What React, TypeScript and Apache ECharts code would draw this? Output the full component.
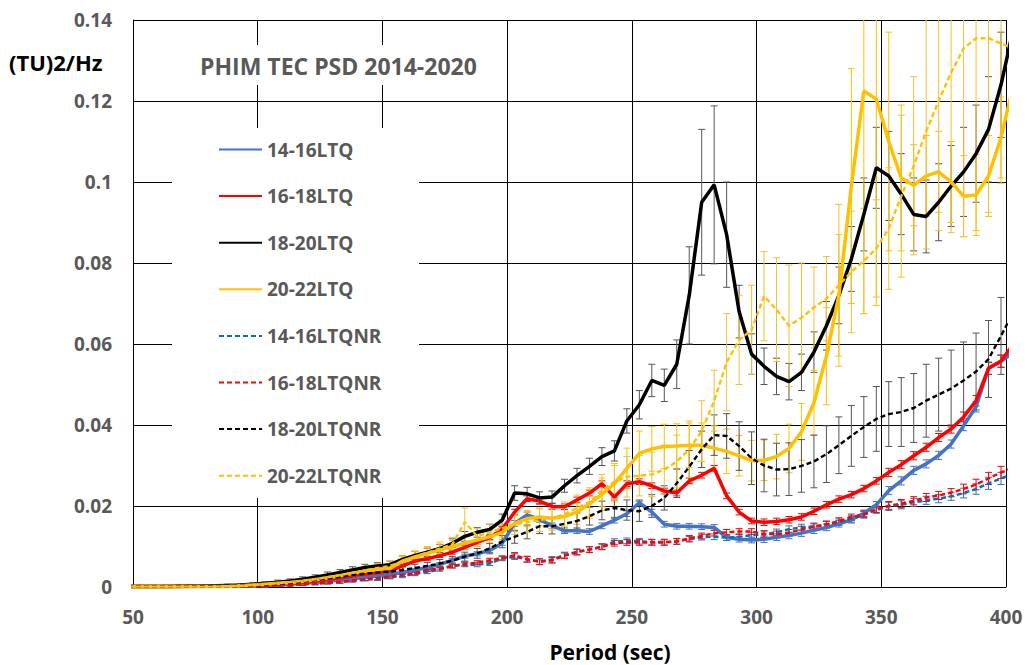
import React, { useEffect, useRef } from "react";
import * as echarts from "echarts";

// Period (sec) sample points shared by all series
const periods = [48, 53, 58, 63, 68, 73, 78, 83, 88, 93, 98, 103, 108, 113, 118, 123, 128, 133, 138, 143, 148, 153, 158, 163, 168, 173, 178, 183, 188, 193, 198,
  203, 208, 213, 218, 223, 228, 233, 238, 243, 248, 253, 258, 263, 268, 273, 278, 283, 288, 293, 298, 303, 308, 313, 318, 323, 328, 333, 338, 343, 348, 353, 358, 363, 368, 373, 378, 383, 388, 393, 398, 403];

const xTickLabels = ["50", "100", "150", "200", "250", "300", "350", "400"];
const yTickLabels = ["0", "0.02", "0.04", "0.06", "0.08", "0.1", "0.12", "0.14"];

// 14-16LTQ
const blueSolid = [0.0001, 0.0001, 0.0001, 0.0001, 0.0001, 0.0001, 0.0002, 0.0002, 0.0002, 0.0003, 0.0003, 0.0004, 0.0005, 0.0007, 0.0009, 0.0011, 0.0014, 0.0017, 0.002, 0.0024, 0.0028, 0.0031, 0.0036, 0.0042, 0.0048, 0.0056, 0.0066, 0.0076, 0.0082, 0.009, 0.0108,
  0.0157, 0.0178, 0.0167, 0.0151, 0.0139, 0.0139, 0.0137, 0.0151, 0.0165, 0.0181, 0.0208, 0.0185, 0.0155, 0.015, 0.015, 0.0149, 0.0147, 0.0122, 0.0118, 0.0116, 0.0118, 0.0123, 0.0127, 0.0133, 0.014, 0.0147, 0.0156, 0.0166, 0.0182, 0.0203, 0.0238, 0.0262, 0.0288, 0.0304, 0.0325, 0.0353, 0.0398, 0.0445, 0.054, 0.0557, 0.058];
const blueSolidErr = [0.0002, 0.0002, 0.0002, 0.0002, 0.0002, 0.0002, 0.0002, 0.0002, 0.0002, 0.0002, 0.0003, 0.0003, 0.0003, 0.0003, 0.0003, 0.0003, 0.0003, 0.0003, 0.0003, 0.0003, 0.0004, 0.0004, 0.0004, 0.0004, 0.0004, 0.0004, 0.0005, 0.0005, 0.0005, 0.0005, 0.0005,
  0.0007, 0.0007, 0.0007, 0.0007, 0.0007, 0.0007, 0.0007, 0.0007, 0.0007, 0.0007, 0.0007, 0.0007, 0.0007, 0.0007, 0.0007, 0.0007, 0.0007, 0.0007, 0.0007, 0.0007, 0.0008, 0.0008, 0.0008, 0.0008, 0.0008, 0.0008, 0.0008, 0.0008, 0.0008, 0.0008, 0.001, 0.001, 0.001, 0.001, 0.001, 0.001, 0.0012, 0.0013, 0.0015, 0.0015, 0.0015];

// 16-18LTQ
const redSolid = [0.0001, 0.0001, 0.0001, 0.0001, 0.0001, 0.0002, 0.0002, 0.0002, 0.0003, 0.0003, 0.0004, 0.0005, 0.0007, 0.0009, 0.0012, 0.0015, 0.0019, 0.0023, 0.0028, 0.0032, 0.0036, 0.004, 0.0052, 0.0064, 0.007, 0.0077, 0.0086, 0.0098, 0.011, 0.0122, 0.0143,
  0.0185, 0.0218, 0.0212, 0.0199, 0.0198, 0.0215, 0.0232, 0.0255, 0.0222, 0.0255, 0.026, 0.025, 0.0237, 0.0232, 0.0262, 0.0276, 0.0293, 0.0225, 0.0185, 0.0163, 0.016, 0.0162, 0.0166, 0.0173, 0.0187, 0.0203, 0.0217, 0.0228, 0.0243, 0.0262, 0.0283, 0.0302, 0.0324, 0.0345, 0.0369, 0.039, 0.042, 0.046, 0.054, 0.0558, 0.06];
const redSolidErr = blueSolidErr.slice();

// 18-20LTQ
const blackSolid = [0.0001, 0.0001, 0.0001, 0.0001, 0.0002, 0.0002, 0.0002, 0.0003, 0.0004, 0.0005, 0.0007, 0.0009, 0.0012, 0.0015, 0.0019, 0.0024, 0.003, 0.0036, 0.0042, 0.0048, 0.0052, 0.0055, 0.0068, 0.0078, 0.0086, 0.0095, 0.0108, 0.0125, 0.0135, 0.0142, 0.0165,
  0.0232, 0.023, 0.022, 0.0222, 0.025, 0.0275, 0.0298, 0.0322, 0.0336, 0.041, 0.045, 0.051, 0.0498, 0.055, 0.072, 0.095, 0.0993, 0.087, 0.068, 0.0575, 0.0545, 0.052, 0.0507, 0.053, 0.058, 0.0645, 0.072, 0.081, 0.092, 0.1035, 0.1015, 0.097, 0.092, 0.0915, 0.095, 0.099, 0.1025, 0.107, 0.113, 0.124, 0.138];
const blackSolidErr = [0.0003, 0.0003, 0.0003, 0.0003, 0.0003, 0.0003, 0.0003, 0.0003, 0.0003, 0.0003, 0.0004, 0.0004, 0.0005, 0.0005, 0.0006, 0.0006, 0.0007, 0.0007, 0.0008, 0.0008, 0.0008, 0.0009, 0.0009, 0.001, 0.001, 0.001, 0.0011, 0.0012, 0.0012, 0.0013, 0.0015,
  0.0018, 0.0016, 0.0015, 0.0015, 0.0016, 0.0018, 0.002, 0.0022, 0.0025, 0.003, 0.0035, 0.004, 0.004, 0.006, 0.012, 0.018, 0.0195, 0.013, 0.0065, 0.005, 0.0045, 0.0045, 0.0045, 0.0045, 0.005, 0.006, 0.007, 0.008, 0.009, 0.01, 0.011, 0.01, 0.009, 0.009, 0.0095, 0.01, 0.011, 0.012, 0.013, 0.013, 0.014];

// 20-22LTQ
const yellowSolid = [0.0001, 0.0001, 0.0001, 0.0001, 0.0001, 0.0001, 0.0001, 0.0001, 0.0001, 0.0003, 0.0005, 0.0007, 0.0009, 0.0011, 0.0014, 0.0018, 0.0023, 0.0028, 0.0034, 0.0039, 0.0043, 0.0046, 0.0064, 0.0074, 0.0083, 0.0091, 0.01, 0.0108, 0.0116, 0.0124, 0.0135,
  0.0157, 0.0169, 0.0173, 0.017, 0.0174, 0.0185, 0.0205, 0.0229, 0.0255, 0.0293, 0.033, 0.0341, 0.0347, 0.0348, 0.035, 0.035, 0.0343, 0.0335, 0.0324, 0.0312, 0.0313, 0.0322, 0.0342, 0.0383, 0.0455, 0.057, 0.072, 0.099, 0.1225, 0.1205, 0.11, 0.101, 0.0992, 0.1015, 0.1025, 0.1, 0.0965, 0.0968, 0.1015, 0.111, 0.124];
const yellowSolidErr = [0.0003, 0.0003, 0.0003, 0.0003, 0.0003, 0.0003, 0.0003, 0.0003, 0.0003, 0.0003, 0.0004, 0.0004, 0.0005, 0.0005, 0.0006, 0.0007, 0.0008, 0.0009, 0.001, 0.001, 0.0012, 0.0012, 0.0013, 0.0013, 0.0014, 0.0015, 0.0015, 0.0016, 0.0016, 0.0017, 0.0018,
  0.002, 0.002, 0.0022, 0.0025, 0.0028, 0.003, 0.0035, 0.004, 0.0045, 0.005, 0.0055, 0.0055, 0.0055, 0.0055, 0.0055, 0.0055, 0.0055, 0.0055, 0.005, 0.005, 0.005, 0.0055, 0.006, 0.007, 0.008, 0.012, 0.015, 0.029, 0.055, 0.051, 0.027, 0.018, 0.01, 0.01, 0.01, 0.01, 0.01, 0.01, 0.01, 0.01, 0.01];

// 14-16LTQNR
const blueDashed = [0.0001, 0.0001, 0.0001, 0.0001, 0.0001, 0.0001, 0.0001, 0.0001, 0.0002, 0.0002, 0.0003, 0.0003, 0.0004, 0.0005, 0.0006, 0.0008, 0.001, 0.0012, 0.0015, 0.0018, 0.002, 0.0024, 0.0027, 0.0032, 0.0037, 0.0043, 0.0052, 0.0055, 0.0055, 0.0058, 0.007,
  0.0075, 0.0068, 0.0063, 0.0068, 0.0079, 0.0087, 0.0093, 0.01, 0.0112, 0.0114, 0.0113, 0.0111, 0.0111, 0.0112, 0.0118, 0.0123, 0.0124, 0.0122, 0.0124, 0.0128, 0.013, 0.0135, 0.0143, 0.0147, 0.015, 0.0154, 0.016, 0.0168, 0.0178, 0.019, 0.0199, 0.0203, 0.0209, 0.0214, 0.0218, 0.0224, 0.0232, 0.0242, 0.0256, 0.0268, 0.028];
const blueDashedErr = blueSolidErr.slice();

// 16-18LTQNR
const redDashed = [0.0001, 0.0001, 0.0001, 0.0001, 0.0001, 0.0001, 0.0001, 0.0001, 0.0002, 0.0002, 0.0003, 0.0003, 0.0004, 0.0005, 0.0007, 0.0009, 0.0011, 0.0013, 0.0016, 0.0019, 0.0022, 0.0026, 0.003, 0.0034, 0.0042, 0.0046, 0.0052, 0.0057, 0.006, 0.0066, 0.0072,
  0.0078, 0.0069, 0.0062, 0.0066, 0.0077, 0.0086, 0.0092, 0.0099, 0.0108, 0.011, 0.011, 0.011, 0.011, 0.0113, 0.012, 0.0126, 0.0133, 0.0135, 0.0137, 0.0137, 0.0131, 0.013, 0.0134, 0.0142, 0.0148, 0.0155, 0.0163, 0.0172, 0.018, 0.0192, 0.0201, 0.0206, 0.0213, 0.0221, 0.0226, 0.0233, 0.0242, 0.0253, 0.0268, 0.0283, 0.0295];
const redDashedErr = blueSolidErr.slice();

// 18-20LTQNR
const blackDashed = [0.0001, 0.0001, 0.0001, 0.0001, 0.0001, 0.0001, 0.0002, 0.0002, 0.0003, 0.0004, 0.0005, 0.0006, 0.0008, 0.001, 0.0013, 0.0017, 0.0021, 0.0025, 0.003, 0.0033, 0.0036, 0.0038, 0.0042, 0.0047, 0.0052, 0.0058, 0.0065, 0.0075, 0.0083, 0.0095, 0.0112,
  0.0124, 0.0136, 0.015, 0.015, 0.0156, 0.0163, 0.0175, 0.0189, 0.0195, 0.019, 0.0187, 0.02, 0.022, 0.0256, 0.0297, 0.034, 0.0375, 0.0373, 0.0348, 0.0318, 0.03, 0.029, 0.0291, 0.0299, 0.031, 0.0328, 0.035, 0.0373, 0.0395, 0.0415, 0.0427, 0.0432, 0.0442, 0.046, 0.0475, 0.049, 0.051, 0.0532, 0.0563, 0.062, 0.068];
const blackDashedErr = [0.0002, 0.0002, 0.0002, 0.0002, 0.0002, 0.0002, 0.0002, 0.0002, 0.0002, 0.0002, 0.0003, 0.0003, 0.0004, 0.0004, 0.0005, 0.0005, 0.0005, 0.0006, 0.0006, 0.0007, 0.0007, 0.0008, 0.0008, 0.0009, 0.0009, 0.001, 0.001, 0.0011, 0.0012, 0.0013, 0.0015,
  0.0016, 0.0017, 0.0018, 0.0019, 0.002, 0.002, 0.0022, 0.0023, 0.0025, 0.0025, 0.0025, 0.0028, 0.003, 0.0035, 0.004, 0.0045, 0.005, 0.0055, 0.006, 0.0065, 0.0065, 0.0065, 0.0065, 0.0065, 0.0065, 0.007, 0.007, 0.0075, 0.0075, 0.008, 0.008, 0.0085, 0.0085, 0.009, 0.009, 0.0095, 0.0095, 0.0095, 0.0095, 0.0095, 0.0095];

// 20-22LTQNR
const yellowDashed = [0.0001, 0.0001, 0.0001, 0.0001, 0.0001, 0.0001, 0.0001, 0.0001, 0.0002, 0.0003, 0.0005, 0.0007, 0.0009, 0.0012, 0.0015, 0.0019, 0.0024, 0.0029, 0.0035, 0.0041, 0.0047, 0.0052, 0.0062, 0.0075, 0.0085, 0.0095, 0.0105, 0.016, 0.0125, 0.0135, 0.0145,
  0.0155, 0.016, 0.0165, 0.017, 0.018, 0.0195, 0.021, 0.0238, 0.026, 0.0272, 0.0275, 0.0278, 0.029, 0.031, 0.034, 0.0385, 0.046, 0.0555, 0.061, 0.0635, 0.0718, 0.0685, 0.0645, 0.0665, 0.069, 0.0712, 0.0745, 0.0778, 0.0805, 0.0836, 0.0885, 0.0965, 0.104, 0.1125, 0.12, 0.127, 0.133, 0.1355, 0.1355, 0.1342, 0.133];
const yellowDashedErr = [0.0004, 0.0004, 0.0004, 0.0004, 0.0004, 0.0004, 0.0004, 0.0004, 0.0004, 0.0004, 0.0005, 0.0005, 0.0005, 0.0005, 0.0005, 0.0006, 0.0007, 0.0008, 0.0009, 0.001, 0.0011, 0.0012, 0.0013, 0.0014, 0.0015, 0.0016, 0.0017, 0.0035, 0.002, 0.002, 0.0022,
  0.0025, 0.0025, 0.0028, 0.003, 0.003, 0.0032, 0.0035, 0.004, 0.0045, 0.005, 0.005, 0.0055, 0.006, 0.0065, 0.007, 0.0075, 0.0075, 0.012, 0.011, 0.011, 0.011, 0.0128, 0.015, 0.0135, 0.01, 0.0104, 0.02, 0.015, 0.013, 0.012, 0.015, 0.02, 0.022, 0.029, 0.032, 0.0395, 0.0465, 0.0475, 0.043, 0.0345, 0.035];

const seriesNames = ["14-16LTQ", "16-18LTQ", "18-20LTQ", "20-22LTQ", "14-16LTQNR", "16-18LTQNR", "18-20LTQNR", "20-22LTQNR"];

const FONT = "'Open Sans', 'Noto Sans', sans-serif";

export default function App() {
  const ref = useRef<HTMLDivElement>(null);

  useEffect(() => {
    if (!ref.current) return;
    const chart = echarts.init(ref.current, undefined, { renderer: "svg" });

    const defs = [
      { name: seriesNames[0], vals: blueSolid, err: blueSolidErr, color: "#4472C4", bar: "#4472C4", dashed: false },
      { name: seriesNames[1], vals: redSolid, err: redSolidErr, color: "#FF0000", bar: "#FF0000", dashed: false },
      { name: seriesNames[2], vals: blackSolid, err: blackSolidErr, color: "#000000", bar: "#555555", dashed: false },
      { name: seriesNames[3], vals: yellowSolid, err: yellowSolidErr, color: "#FFC000", bar: "#FFC000", dashed: false },
      { name: seriesNames[4], vals: blueDashed, err: blueDashedErr, color: "#0070C0", bar: "#2E75B6", dashed: true },
      { name: seriesNames[5], vals: redDashed, err: redDashedErr, color: "#FF0000", bar: "#FF0000", dashed: true },
      { name: seriesNames[6], vals: blackDashed, err: blackDashedErr, color: "#000000", bar: "#555555", dashed: true },
      { name: seriesNames[7], vals: yellowDashed, err: yellowDashedErr, color: "#FFC000", bar: "#F4C030", dashed: true },
    ];

    const makeRender = (color: string) => (params: any, api: any) => {
      const x = api.value(0);
      const lo = api.value(1);
      const hi = api.value(2);
      const pLo = api.coord([x, lo]);
      const pHi = api.coord([x, hi]);
      const cs = params.coordSys;
      const px = pLo[0];
      if (px < cs.x - 0.5 || px > cs.x + cs.width + 0.5) return null;
      const top = Math.max(pHi[1], cs.y);
      const bottom = Math.min(pLo[1], cs.y + cs.height);
      const st = { stroke: color, lineWidth: 1 };
      const hw = 3.5;
      const children: any[] = [
        { type: "line", shape: { x1: px, y1: top, x2: px, y2: bottom }, style: st },
      ];
      if (pHi[1] >= cs.y) children.push({ type: "line", shape: { x1: px - hw, y1: pHi[1], x2: px + hw, y2: pHi[1] }, style: st });
      if (pLo[1] <= cs.y + cs.height) children.push({ type: "line", shape: { x1: px - hw, y1: pLo[1], x2: px + hw, y2: pLo[1] }, style: st });
      return { type: "group", children };
    };

    const series: any[] = [];
    defs.forEach((d) => {
      series.push({
        type: "custom",
        name: d.name + " err",
        silent: true,
        z: 2,
        renderItem: makeRender(d.bar),
        encode: { x: 0, y: [1, 2] },
        data: periods.map((p, i) => [p, d.vals[i] - d.err[i], d.vals[i] + d.err[i]]),
      });
    });
    defs.forEach((d) => {
      series.push({
        type: "line",
        name: d.name,
        silent: true,
        z: 3,
        clip: true,
        symbol: "none",
        data: periods.map((p, i) => [p, d.vals[i]]),
        itemStyle: { color: d.color },
        lineStyle: { color: d.color, width: d.dashed ? 2.4 : 3.5, type: d.dashed ? [5, 3] : "solid" },
      });
    });

    chart.setOption({
      animation: false,
      backgroundColor: "#ffffff",
      grid: { left: 133, right: 21, top: 20, bottom: 78, containLabel: false },
      xAxis: {
        type: "value",
        min: 50,
        max: 400,
        interval: 50,
        axisLine: { show: true, lineStyle: { color: "#000", width: 1 } },
        axisTick: { show: false },
        splitLine: { show: true, lineStyle: { color: "#000", width: 1 } },
        axisLabel: {
          color: "#595959",
          fontSize: 19,
          fontWeight: "bold",
          fontFamily: FONT,
          margin: 20,
          formatter: (v: number) => xTickLabels[Math.round((v - 50) / 50)] ?? "",
        },
      },
      yAxis: {
        type: "value",
        min: 0,
        max: 0.14,
        interval: 0.02,
        axisLine: { show: true, lineStyle: { color: "#000", width: 1 } },
        axisTick: { show: false },
        splitLine: { show: true, lineStyle: { color: "#000", width: 1 } },
        axisLabel: {
          color: "#595959",
          fontSize: 19,
          fontWeight: "bold",
          fontFamily: FONT,
          margin: 21,
          formatter: (v: number) => yTickLabels[Math.round(v / 0.02)] ?? "",
        },
      },
      legend: {
        orient: "vertical",
        left: 218,
        top: 140,
        padding: 0,
        itemWidth: 43,
        itemHeight: 14,
        itemGap: 27.6,
        selectedMode: false,
        data: seriesNames,
        itemStyle: { opacity: 0, borderWidth: 0 },
        textStyle: { color: "#595959", fontSize: 19, fontWeight: "bold", fontFamily: FONT },
      },
      graphic: [
        { type: "rect", z: 1, shape: { x: 190, y: 45, width: 300, height: 40 }, style: { fill: "#ffffff" } },
        { type: "rect", z: 1, shape: { x: 172, y: 128, width: 247, height: 370 }, style: { fill: "#ffffff" } },
        {
          type: "text", z: 10, x: 200, y: 66,
          style: { text: "PHIM TEC PSD 2014-2020", fill: "#595959", font: `bold 23px ${FONT}`, verticalAlign: "middle" },
        },
        {
          type: "text", z: 10, x: 9, y: 62,
          style: { text: "(TU)2/Hz", fill: "#000000", font: `bold 22px ${FONT}`, verticalAlign: "middle" },
        },
        {
          type: "text", z: 10, x: 610, y: 652,
          style: { text: "Period (sec)", fill: "#000000", font: `bold 21px ${FONT}`, align: "center", verticalAlign: "middle" },
        },
      ],
      series,
    });

    return () => chart.dispose();
  }, []);

  return <div ref={ref} style={{ position: "fixed", left: 0, top: 0, width: 1027, height: 665 }} />;
}
